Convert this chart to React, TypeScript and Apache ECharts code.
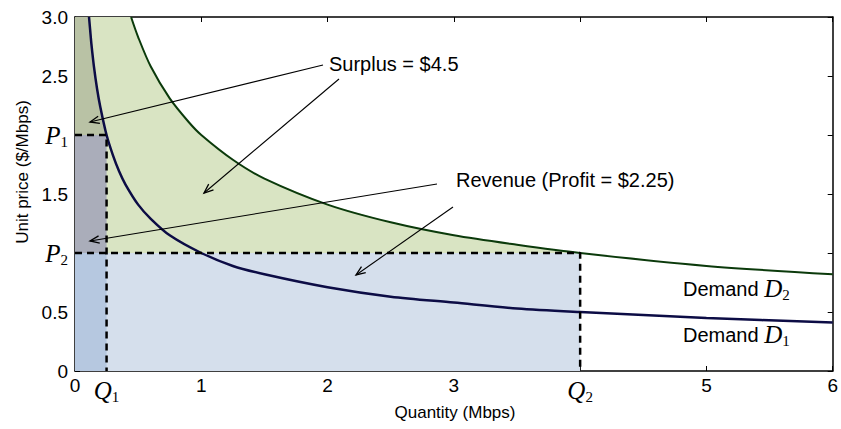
import React, { useEffect, useRef } from "react";
import * as echarts from "echarts";

// ---- data ----
const Q1 = 0.25;
const Q2 = 4;
const P1 = 2;
const P2 = 1;
const X_MAX = 6;
const Y_MAX = 3;

const xTicks = [0, 0.25, 1, 2, 3, 4, 5, 6];
const xTickLabels = ["0", "{q|Q}{s|1}", "1", "2", "3", "{q|Q}{s|2}", "5", "6"];
const yTicks = [0, 0.5, 1, 1.5, 2, 2.5, 3];
const yTickLabels = ["0", "0.5", "{p|P}{s|2}", "1.5", "{p|P}{s|1}", "2.5", "3.0"];

// Demand D1 (navy curve)
const d1Qty = [0.111, 0.12, 0.13, 0.15, 0.175, 0.2, 0.25, 0.3, 0.35, 0.4, 0.5, 0.6, 0.75, 1, 1.25, 1.5, 2, 2.5, 3, 3.5, 4, 5, 6];
const d1Price = [3.0, 2.89, 2.77, 2.58, 2.39, 2.24, 2.0, 1.83, 1.69, 1.58, 1.41, 1.29, 1.15, 1.0, 0.89, 0.82, 0.71, 0.63, 0.58, 0.53, 0.5, 0.45, 0.41];

// Demand D2 (dark green curve)
const d2Qty = [0.444, 0.5, 0.6, 0.75, 0.9, 1, 1.25, 1.5, 2, 2.5, 3, 3.5, 4, 5, 6];
const d2Price = [3.0, 2.83, 2.58, 2.31, 2.11, 2.0, 1.79, 1.63, 1.41, 1.26, 1.15, 1.07, 1.0, 0.89, 0.82];

const surplusText = "Surplus = $4.5";
const revenueText = "Revenue (Profit = $2.25)";

// ---- layout ----
const W = 841;
const H = 429;
const GRID = { left: 75, right: 6, top: 17, bottom: 58 };
const SANS = "'Liberation Sans', Arial, Helvetica, sans-serif";
const SERIF = "'Liberation Serif', 'Times New Roman', serif";

const C_GREEN = "#d9e4c3";
const C_OLIVE = "#b9c2a5";
const C_GRAY = "#aaadba";
const C_BLUE = "#b6c8e0";
const C_LBLUE = "#d5dfec";

export default function App() {
  const ref = useRef<HTMLDivElement>(null);

  useEffect(() => {
    if (!ref.current) return;
    const chart = echarts.init(ref.current, undefined, { renderer: "svg" });

    const d1 = d1Qty.map((q, i) => [q, d1Price[i]]);
    const d2 = d2Qty.map((q, i) => [q, d2Price[i]]);

    const greenPoly: number[][] = [[0, P2], [0, Y_MAX]];
    d2.forEach((p) => {
      if (p[0] <= Q2) greenPoly.push(p);
    });
    greenPoly.push([Q2, P2]);

    const olivePoly: number[][] = [[0, P1], [0, Y_MAX]];
    d1.forEach((p) => {
      if (p[0] <= Q1) olivePoly.push(p);
    });

    const regions = [
      { pts: greenPoly, color: C_GREEN },
      { pts: [[0, 0], [Q2, 0], [Q2, P2], [0, P2]], color: C_LBLUE },
      { pts: olivePoly, color: C_OLIVE },
      { pts: [[0, P2], [Q1, P2], [Q1, P1], [0, P1]], color: C_GRAY },
      { pts: [[0, 0], [Q1, 0], [Q1, P2], [0, P2]], color: C_BLUE },
    ];

    const rich = {
      q: { fontFamily: SERIF, fontStyle: "italic", fontSize: 25, color: "#000", lineHeight: 24, verticalAlign: "middle" },
      p: { fontFamily: SERIF, fontStyle: "italic", fontSize: 25, color: "#000", lineHeight: 24, verticalAlign: "middle" },
      s: { fontFamily: SERIF, fontSize: 15, color: "#000", lineHeight: 28, verticalAlign: "bottom" },
    };

    const axisCommon = {
      type: "value" as const,
      axisLine: { show: true, onZero: false, lineStyle: { color: "#000", width: 1.5 } },
      splitLine: { show: false },
    };

    // arrows in pixels (annotations)
    const arrows = [
      { from: [323, 65], to: [90, 122] },
      { from: [339, 79], to: [204, 193] },
      { from: [437, 184], to: [90, 241] },
      { from: [453, 207], to: [356, 275] },
    ];
    const arrowGraphics: any[] = [];
    arrows.forEach((a) => {
      const [x1, y1] = a.from;
      const [x2, y2] = a.to;
      const ang = Math.atan2(y2 - y1, x2 - x1);
      const L = 10;
      const spread = 0.38;
      const h1 = [x2 - L * Math.cos(ang - spread), y2 - L * Math.sin(ang - spread)];
      const h2 = [x2 - L * Math.cos(ang + spread), y2 - L * Math.sin(ang + spread)];
      arrowGraphics.push({
        type: "line",
        shape: { x1, y1, x2, y2 },
        style: { stroke: "#000", lineWidth: 1.1 },
        z: 100,
      });
      arrowGraphics.push({
        type: "polyline",
        shape: { points: [h1, [x2, y2], h2] },
        style: { stroke: "#000", lineWidth: 1.3, fill: null },
        z: 100,
      });
    });

    const demandLabel = (sub: string, y: number) => ({
      type: "text",
      left: 683,
      top: y - 14,
      z: 100,
      style: {
        text: `{t|Demand }{d|D}{s|${sub}}`,
        rich: {
          t: { fontFamily: SANS, fontSize: 20, color: "#000", lineHeight: 24, verticalAlign: "middle" },
          d: { fontFamily: SERIF, fontStyle: "italic", fontSize: 25, color: "#000", lineHeight: 24, verticalAlign: "middle" },
          s: { fontFamily: SERIF, fontSize: 15, color: "#000", lineHeight: 28, verticalAlign: "bottom" },
        },
      },
    });

    chart.setOption({
      animation: false,
      backgroundColor: "#fff",
      grid: { ...GRID, containLabel: false },
      xAxis: [
        {
          ...axisCommon,
          position: "bottom",
          min: 0,
          max: X_MAX,
          axisTick: { show: true, inside: true, length: 5, customValues: xTicks, lineStyle: { color: "#000", width: 1 } },
          axisLabel: {
            show: true,
            customValues: xTicks,
            margin: 5,
            color: "#000",
            fontFamily: SANS,
            fontSize: 19,
            formatter: (v: number) => {
              const i = xTicks.indexOf(v);
              return i >= 0 ? xTickLabels[i] : "";
            },
            rich,
          },
        },
        {
          ...axisCommon,
          position: "top",
          min: 0,
          max: X_MAX,
          axisTick: { show: true, inside: true, length: 5, customValues: xTicks, lineStyle: { color: "#000", width: 1 } },
          axisLabel: { show: false },
        },
      ],
      yAxis: [
        {
          ...axisCommon,
          position: "left",
          min: 0,
          max: Y_MAX,
          axisTick: { show: true, inside: true, length: 5, customValues: yTicks, lineStyle: { color: "#000", width: 1 } },
          axisLabel: {
            show: true,
            customValues: yTicks,
            margin: 7,
            color: "#000",
            fontFamily: SANS,
            fontSize: 19,
            formatter: (v: number) => {
              const i = yTicks.indexOf(v);
              return i >= 0 ? yTickLabels[i] : "";
            },
            rich,
          },
        },
        {
          ...axisCommon,
          position: "right",
          min: 0,
          max: Y_MAX,
          axisTick: { show: true, inside: true, length: 5, customValues: yTicks, lineStyle: { color: "#000", width: 1 } },
          axisLabel: { show: false },
        },
      ],
      series: [
        {
          type: "custom",
          xAxisIndex: 0,
          yAxisIndex: 0,
          z: 1,
          silent: true,
          clip: true,
          data: regions.map((r) => r.pts[0]),
          renderItem: (params: any, api: any) => {
            const r = regions[params.dataIndex];
            return {
              type: "polygon",
              shape: { points: r.pts.map((p) => api.coord(p)) },
              style: { fill: r.color, stroke: null },
            };
          },
        },
        {
          type: "line",
          name: "D2",
          data: d2,
          smooth: 0.3,
          showSymbol: false,
          symbol: "none",
          z: 5,
          clip: true,
          lineStyle: { color: "#0b3a0b", width: 2 },
        },
        {
          type: "line",
          name: "D1",
          data: d1,
          smooth: 0.3,
          showSymbol: false,
          symbol: "none",
          z: 5,
          clip: true,
          lineStyle: { color: "#0c0c45", width: 2.5 },
        },
        {
          type: "line",
          name: "P1Q1",
          data: [[0, P1], [Q1, P1], [Q1, 0]],
          showSymbol: false,
          symbol: "none",
          z: 6,
          lineStyle: { color: "#000", width: 2.5, type: [7, 5] },
        },
        {
          type: "line",
          name: "P2Q2",
          data: [[0, P2], [Q2, P2], [Q2, 0]],
          showSymbol: false,
          symbol: "none",
          z: 6,
          lineStyle: { color: "#000", width: 2.5, type: [7, 5] },
        },
      ],
      graphic: [
        ...arrowGraphics,
        {
          type: "text",
          left: 329,
          top: 54,
          z: 100,
          style: { text: surplusText, fontFamily: SANS, fontSize: 20, fill: "#000" },
        },
        {
          type: "text",
          left: 456,
          top: 170,
          z: 100,
          style: { text: revenueText, fontFamily: SANS, fontSize: 20, fill: "#000" },
        },
        demandLabel("2", 290),
        demandLabel("1", 336),
        {
          type: "text",
          x: 455,
          y: 412,
          z: 100,
          style: {
            text: "Quantity (Mbps)",
            fontFamily: SANS,
            fontSize: 17,
            fill: "#000",
            align: "center",
            verticalAlign: "middle",
          },
        },
        {
          type: "text",
          x: 22,
          y: 172,
          rotation: Math.PI / 2,
          z: 100,
          style: {
            text: "Unit price ($/Mbps)",
            fontFamily: SANS,
            fontSize: 17,
            fill: "#000",
            align: "center",
            verticalAlign: "middle",
          },
        },
      ],
    });

    return () => chart.dispose();
  }, []);

  return (
    <div
      ref={ref}
      style={{ position: "absolute", left: 0, top: 0, width: W, height: H, background: "#fff" }}
    />
  );
}
